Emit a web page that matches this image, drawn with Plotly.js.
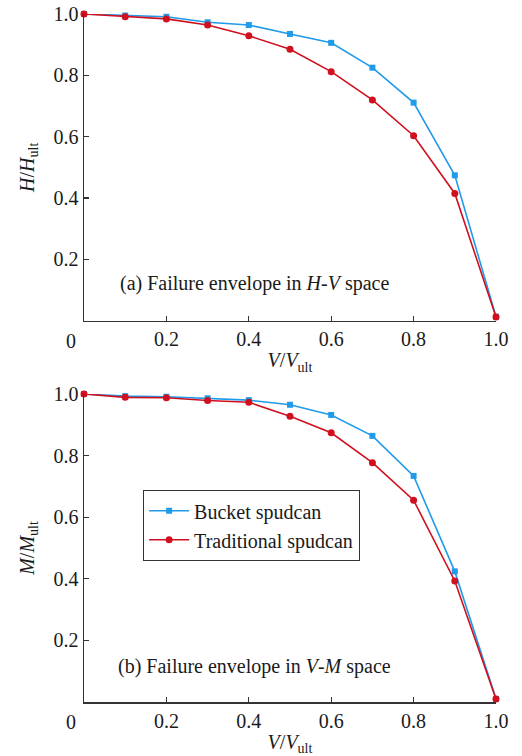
<!DOCTYPE html>
<html>
<head>
<meta charset="utf-8">
<script src="https://cdn.plot.ly/plotly-3.0.1.min.js"></script>
<style>html,body{margin:0;padding:0;background:#fff;}#chart{width:522px;height:756px;}</style>
</head>
<body>
<div id="chart"></div>
<script>
// Data
const vRatio = [0, 0.1, 0.2, 0.3, 0.4, 0.5, 0.6, 0.7, 0.8, 0.9, 1.0];
const hvBucket = [1.0, 0.995, 0.991, 0.973, 0.964, 0.935, 0.906, 0.825, 0.711, 0.474, 0.013];
const hvTraditional = [1.0, 0.991, 0.984, 0.964, 0.929, 0.885, 0.812, 0.720, 0.603, 0.415, 0.012];
const vmBucket = [1.0, 0.993, 0.991, 0.986, 0.980, 0.965, 0.932, 0.864, 0.734, 0.424, 0.010];
const vmTraditional = [1.0, 0.989, 0.988, 0.979, 0.973, 0.928, 0.874, 0.777, 0.655, 0.393, 0.010];
const seriesNames = ['Bucket spudcan', 'Traditional spudcan'];
const xTickVals = [0.2, 0.4, 0.6, 0.8, 1.0];
const xTickText = ['0.2', '0.4', '0.6', '0.8', '1.0'];
const yTickVals = [0.2, 0.4, 0.6, 0.8, 1.0];
const yTickText = ['0.2', '0.4', '0.6', '0.8', '1.0'];

const blue = '#1f9be9';
const red = '#d0101e';
const fontFam = '"Liberation Serif", "Times New Roman", serif';
const txt = '#1a1a1a';
const fs = 20;

function tr(y, name, color, sym, xa, ya, show) {
  return {
    x: vRatio, y: y, name: name, type: 'scatter', mode: 'lines+markers',
    xaxis: xa, yaxis: ya, showlegend: show, cliponaxis: false,
    line: {color: color, width: 1.6},
    marker: {color: color, symbol: sym, size: sym === 'square' ? 6 : 7}
  };
}

const data = [
  tr(hvBucket, seriesNames[0], blue, 'square', 'x', 'y', false),
  tr(hvTraditional, seriesNames[1], red, 'circle', 'x', 'y', false),
  tr(vmBucket, seriesNames[0], blue, 'square', 'x2', 'y2', true),
  tr(vmTraditional, seriesNames[1], red, 'circle', 'x2', 'y2', true)
];

function xax(anchor) {
  return {
    anchor: anchor, domain: [0, 1], range: [0, 1.0], showgrid: false, zeroline: false,
    showline: true, linecolor: '#333', linewidth: 1.5,
    ticks: 'inside', ticklen: 5, tickcolor: '#333', tickwidth: 1.2,
    tickvals: xTickVals, ticktext: xTickText,
    tickfont: {family: fontFam, size: fs, color: txt},
    title: {text: '<i>V</i>/<i>V</i><sub>ult</sub>', font: {family: fontFam, size: fs, color: txt}, standoff: 4}
  };
}
function yax(anchor, domain, letter) {
  return {
    anchor: anchor, domain: domain, range: [0, 1.0], showgrid: false, zeroline: false,
    showline: true, linecolor: '#333', linewidth: 1.5,
    ticks: 'inside', ticklen: 5, tickcolor: '#333', tickwidth: 1.2,
    tickvals: yTickVals, ticktext: yTickText,
    tickfont: {family: fontFam, size: fs, color: txt},
    title: {text: '<i>' + letter + '</i>/<i>' + letter + '</i><sub>ult</sub>', font: {family: fontFam, size: fs, color: txt}, standoff: 13}
  };
}

const layout = {
  width: 522, height: 756,
  margin: {l: 84, r: 26, t: 14, b: 54},
  paper_bgcolor: '#fff', plot_bgcolor: '#fff',
  font: {family: fontFam, size: fs, color: txt},
  xaxis: xax('y'),
  yaxis: yax('x', [0.5542, 1], 'H'),
  xaxis2: xax('y2'),
  yaxis2: yax('x2', [0, 0.4477], 'M'),
  showlegend: true,
  legend: {
    x: 0.143, y: 0.308, xref: 'paper', yref: 'paper', xanchor: 'left', yanchor: 'top',
    bgcolor: '#fff', bordercolor: '#333', borderwidth: 1.2, itemwidth: 40,
    font: {family: fontFam, size: fs, color: txt}, tracegroupgap: 0
  },
  annotations: [
    {text: '(a) Failure envelope in <i>H</i>-<i>V</i> space', xref: 'paper', yref: 'paper', x: 0.0825, y: 0.609, xanchor: 'left', yanchor: 'middle', showarrow: false, font: {family: fontFam, size: fs, color: txt}},
    {text: '(b) Failure envelope in <i>V</i>-<i>M</i> space', xref: 'paper', yref: 'paper', x: 0.078, y: 0.051, xanchor: 'left', yanchor: 'middle', showarrow: false, font: {family: fontFam, size: fs, color: txt}},
    {text: '0', xref: 'x', yref: 'paper', x: 0, y: 0.5542, xanchor: 'right', yanchor: 'top', xshift: -6, yshift: -7, showarrow: false, font: {family: fontFam, size: fs, color: txt}},
    {text: '0', xref: 'x2', yref: 'paper', x: 0, y: 0, xanchor: 'right', yanchor: 'top', xshift: -6, yshift: -7, showarrow: false, font: {family: fontFam, size: fs, color: txt}}
  ]
};

Plotly.newPlot('chart', data, layout, {displayModeBar: false, staticPlot: true});
</script>
</body>
</html>
